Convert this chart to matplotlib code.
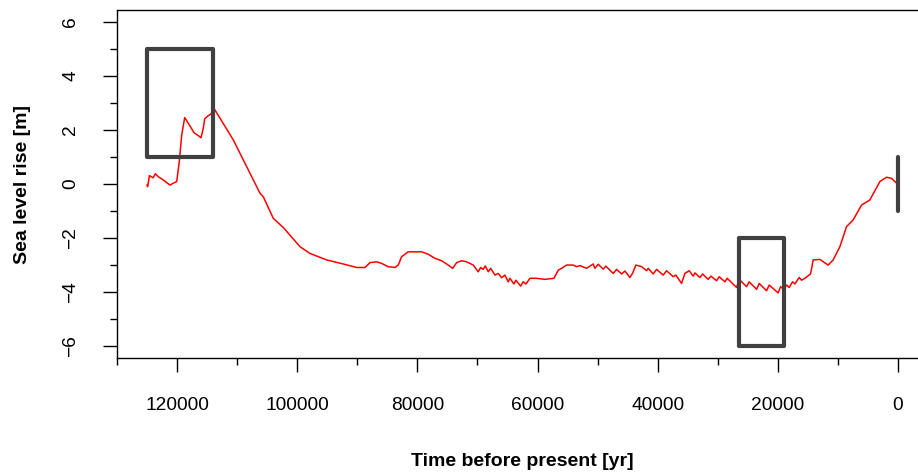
"""
Sea level reconstruction over the last glacial cycle with target boxes
(Eemian, LGM, present day) drawn on top of the modelled curve.
"""
import matplotlib
matplotlib.use("Agg")
import matplotlib.pyplot as plt
from matplotlib.patches import Rectangle

# modelled sea level curve
years = [125000, 124900, 124600, 124000, 123600, 123130, 122300, 121180, 120630, 120060,
         119630, 119230, 118730, 117970, 117190, 116470, 116020, 115640, 115400, 114800,
         114400, 113860, 110640, 106200, 105650, 103990, 102320, 99540, 97880, 95100,
         92340, 90110, 88720, 87890, 86780, 85950, 84850, 83730, 83180, 82620,
         81520, 79290, 78190, 77080, 75960, 74860, 74130, 73460, 72630, 71800,
         70700, 69870, 69470, 69040, 68700, 68200, 67800, 67090, 66540, 65970,
         65430, 64880, 64590, 63930, 63590, 62810, 62380, 61930, 61260, 60150,
         58770, 57270, 56550, 55990, 55160, 54060, 53490, 52940, 51830, 51280,
         50730, 50450, 49900, 49070, 48620, 47400, 46840, 46000, 45450, 44620,
         44170, 43620, 42670, 41840, 41580, 40740, 40180, 39080, 38510, 37420,
         36970, 36020, 35470, 34750, 34090, 33800, 32970, 32520, 31590, 31140,
         30190, 29760, 28810, 28430, 26860, 26430, 25200, 24770, 23530, 23100,
         21870, 21440, 19940, 19540, 18990, 18540, 18110, 17540, 17160, 16440,
         16050, 15500, 14550, 14110, 13000, 11620, 10790, 9670, 8560, 7460,
         6060, 4680, 3010, 1900, 1070, 235]
sea_level = [-0.04, -0.10, 0.31, 0.23, 0.38, 0.27, 0.15, -0.04, 0.03, 0.09,
             0.83, 1.81, 2.46, 2.19, 1.90, 1.79, 1.71, 2.06, 2.41, 2.53,
             2.58, 2.80, 1.63, -0.34, -0.47, -1.27, -1.61, -2.32, -2.57, -2.81,
             -2.96, -3.09, -3.09, -2.91, -2.88, -2.94, -3.06, -3.09, -3.00, -2.69,
             -2.51, -2.51, -2.60, -2.75, -2.84, -3.00, -3.12, -2.91, -2.84, -2.88,
             -3.00, -3.25, -3.09, -3.16, -3.03, -3.25, -3.12, -3.37, -3.31, -3.47,
             -3.37, -3.62, -3.49, -3.70, -3.56, -3.78, -3.62, -3.70, -3.49, -3.49,
             -3.53, -3.49, -3.19, -3.12, -3.00, -3.00, -3.06, -3.02, -3.12, -3.04,
             -2.96, -3.12, -2.97, -3.15, -3.04, -3.31, -3.16, -3.33, -3.22, -3.46,
             -3.30, -3.00, -3.06, -3.21, -3.12, -3.33, -3.16, -3.37, -3.21, -3.43,
             -3.37, -3.68, -3.31, -3.21, -3.41, -3.29, -3.46, -3.33, -3.53, -3.41,
             -3.58, -3.43, -3.62, -3.49, -3.83, -3.53, -3.80, -3.62, -3.90, -3.68,
             -3.95, -3.74, -4.03, -3.80, -3.90, -3.74, -3.83, -3.62, -3.70, -3.46,
             -3.56, -3.49, -3.33, -2.81, -2.79, -3.00, -2.81, -2.32, -1.58, -1.33,
             -0.78, -0.59, 0.09, 0.25, 0.21, 0.03]

# target constraints: (start yr, end yr, lower m, upper m)
targets = [(125000, 114000, 1, 5),
           (26500, 19000, -6, -2),
           (0, 0, -1, 1)]

x_major = list(range(0, 120001, 20000))
x_minor = list(range(10000, 130001, 20000))
y_major = list(range(-6, 7, 2))
y_minor = list(range(-5, 6, 2))

BOX_COLOR = "#404040"

plt.rcParams["font.family"] = ["Liberation Sans", "DejaVu Sans"]

fig = plt.figure(figsize=(9.18, 4.76), dpi=100)
ax = fig.add_axes([117 / 918, 1 - 358 / 476, 811 / 918, 348 / 476])

ax.plot(years, sea_level, color="red", lw=1.1, zorder=2)

for x0, x1, y0, y1 in targets:
    if x0 == x1:
        ax.plot([x0, x1], [y0, y1], color=BOX_COLOR, lw=3.0,
                solid_capstyle="round", zorder=3)
    else:
        ax.add_patch(Rectangle((x1, y0), x0 - x1, y1 - y0, fill=False,
                               edgecolor=BOX_COLOR, lw=3.0, joinstyle="round", zorder=3))

ax.set_xlim(130000, -5000)
ax.set_ylim(-6.44, 6.44)

ax.set_xticks(x_major)
ax.set_xticks(x_minor, minor=True)
ax.set_xticklabels([str(v) for v in x_major])
ax.set_yticks(y_major)
ax.set_yticks(y_minor, minor=True)
ax.set_yticklabels([str(v).replace("-", "\u2212") for v in y_major], rotation=90, va="center")

ax.tick_params(which="major", length=10, width=1.0, labelsize=13.8, pad=18, color="black")
ax.tick_params(which="minor", length=5, width=1.0, color="black")
ax.tick_params(axis="y", which="major", pad=17)

for side in ["left", "top", "bottom"]:
    ax.spines[side].set_linewidth(1.0)
ax.spines["right"].set_visible(False)

ax.set_xlabel("Time before present [yr]", fontsize=14, fontweight="bold", labelpad=28)
ax.set_ylabel("Sea level rise [m]", fontsize=14, fontweight="bold", labelpad=23)

fig.savefig("out.png", dpi=100)
